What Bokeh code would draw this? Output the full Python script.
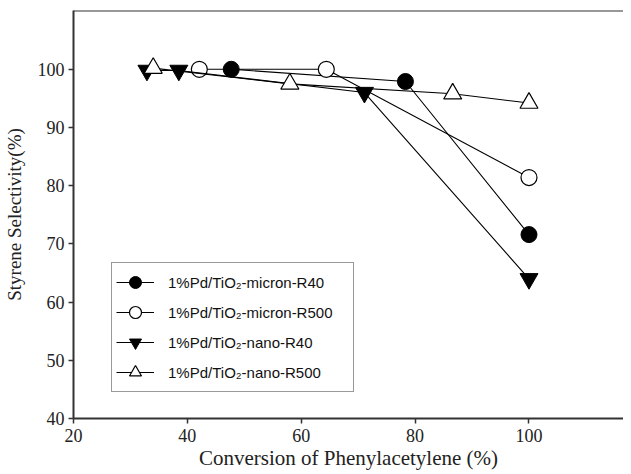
from bokeh.plotting import figure
from bokeh.models import Range1d, Span, Legend, LegendItem, FixedTicker
from bokeh.embed import file_html
from bokeh.resources import INLINE

# Data
micron_r40_x = [47.7, 78.3, 100.0]
micron_r40_y = [100.0, 97.9, 71.6]
micron_r500_x = [42.1, 64.4, 100.0]
micron_r500_y = [100.0, 100.0, 81.4]
nano_r40_x = [32.9, 38.5, 71.1, 100.0]
nano_r40_y = [99.8, 99.8, 96.0, 64.0]
nano_r500_x = [34.0, 58.0, 86.6, 100.0]
nano_r500_y = [100.2, 97.5, 95.8, 94.2]

labels = ["1%Pd/TiO\u2082-micron-R40", "1%Pd/TiO\u2082-micron-R500",
          "1%Pd/TiO\u2082-nano-R40", "1%Pd/TiO\u2082-nano-R500"]
x_ticks = [20, 40, 60, 80, 100]
y_ticks = [40, 50, 60, 70, 80, 90, 100]

p = figure(width=623, height=474, output_backend="svg", toolbar_location=None,
           x_range=Range1d(20, 116.6), y_range=Range1d(40, 110.1),
           min_border_left=68, min_border_right=0, min_border_top=10, min_border_bottom=56)
p.outline_line_color = None
p.grid.visible = False
p.background_fill_color = "white"

axis_col = "#333333"
for ax in (p.xaxis[0], p.yaxis[0]):
    ax.axis_line_color = axis_col
    ax.axis_line_width = 2
    ax.major_tick_line_color = axis_col
    ax.major_tick_line_width = 1.5
    ax.major_tick_in = 0
    ax.major_tick_out = 5
    ax.minor_tick_line_color = None
    ax.major_label_text_font = "Liberation Serif"
    ax.major_label_text_font_size = "18px"
    ax.major_label_text_color = "#222222"
    ax.axis_label_text_font = "Liberation Serif"
    ax.axis_label_text_font_style = "normal"
    ax.axis_label_text_color = "#222222"

p.xaxis[0].ticker = FixedTicker(ticks=x_ticks)
p.yaxis[0].ticker = FixedTicker(ticks=y_ticks)
p.xaxis[0].axis_label = "Conversion of Phenylacetylene (%)"
p.yaxis[0].axis_label = "Styrene Selectivity(%)"
p.xaxis[0].axis_label_text_font_size = "21px"
p.yaxis[0].axis_label_text_font_size = "19px"
p.xaxis[0].major_label_standoff = 5
p.yaxis[0].major_label_standoff = 4
p.xaxis[0].axis_label_standoff = 1
p.yaxis[0].axis_label_standoff = 10

p.add_layout(Span(location=110.1, dimension="width", line_color=axis_col, line_width=2))

sz = 16
l1 = p.line(micron_r40_x, micron_r40_y, line_color="black", line_width=1.1)
s1 = p.scatter(micron_r40_x, micron_r40_y, marker="circle", size=sz,
               fill_color="black", line_color="black")
l2 = p.line(micron_r500_x, micron_r500_y, line_color="black", line_width=1.1)
s2 = p.scatter(micron_r500_x, micron_r500_y, marker="circle", size=sz,
               fill_color="white", line_color="black", line_width=1.2)
l3 = p.line(nano_r40_x, nano_r40_y, line_color="black", line_width=1.1)
s3 = p.scatter(nano_r40_x, nano_r40_y, marker="inverted_triangle", size=sz + 2,
               fill_color="black", line_color="black")
l4 = p.line(nano_r500_x, nano_r500_y, line_color="black", line_width=1.1)
s4 = p.scatter(nano_r500_x, nano_r500_y, marker="triangle", size=sz + 2,
               fill_color="white", line_color="black", line_width=1.2)

legend = Legend(items=[LegendItem(label=labels[0], renderers=[l1, s1]),
                       LegendItem(label=labels[1], renderers=[l2, s2]),
                       LegendItem(label=labels[2], renderers=[l3, s3]),
                       LegendItem(label=labels[3], renderers=[l4, s4])],
                location=(38, 26))
legend.label_text_font = "Liberation Sans"
legend.label_text_font_size = "15px"
legend.label_text_color = "#111111"
legend.glyph_width = 38
legend.glyph_height = 30
legend.label_height = 20
legend.label_width = 181
legend.spacing = 0
legend.padding = 4
legend.margin = 0
legend.label_standoff = 14
legend.border_line_color = "#333333"
legend.border_line_width = 1.5
legend.background_fill_alpha = 1
p.add_layout(legend, "center")

open("out.html", "w").write(file_html(p, INLINE))
